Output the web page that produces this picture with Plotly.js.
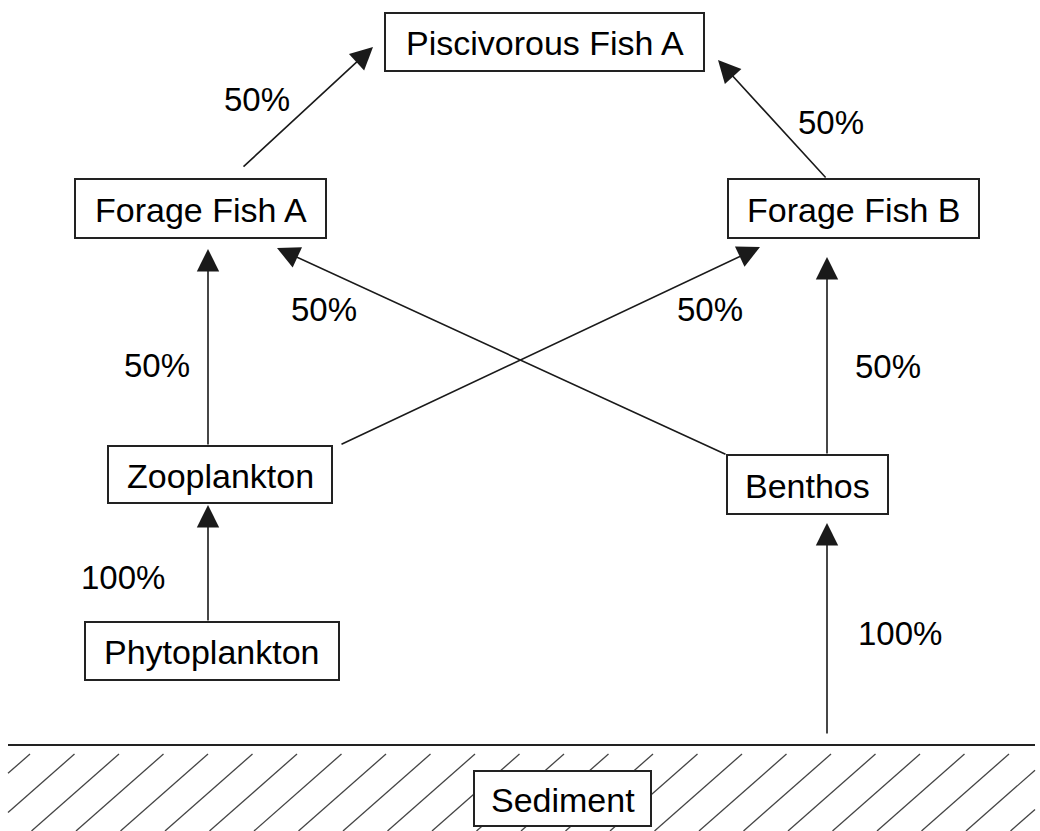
<!DOCTYPE html>
<html>
<head>
<meta charset="utf-8">
<script src="https://cdn.plot.ly/plotly-3.0.1.min.js"></script>
<style>html,body{margin:0;padding:0;background:#fff;}#chart{width:1040px;height:831px;}</style>
</head>
<body>
<div id="chart"></div>
<script>
// ---- content ----
const nodeNames = ['Piscivorous Fish A', 'Forage Fish A', 'Forage Fish B', 'Zooplankton', 'Benthos', 'Phytoplankton', 'Sediment'];
const edgeFrom  = ['Forage Fish A', 'Forage Fish B', 'Zooplankton', 'Benthos', 'Zooplankton', 'Benthos', 'Phytoplankton', 'Sediment'];
const edgeTo    = ['Piscivorous Fish A', 'Piscivorous Fish A', 'Forage Fish A', 'Forage Fish A', 'Forage Fish B', 'Forage Fish B', 'Zooplankton', 'Benthos'];
const edgeShare = ['50%', '50%', '50%', '50%', '50%', '50%', '100%', '100%'];

// ---- diagram geometry (pixel coordinates of the drawing) ----
const boxLeft   = [385, 75, 728, 108, 727, 85, 474];
const boxRight  = [704, 326, 979, 332, 888, 339, 651];
const boxTop    = [13, 179, 179, 446, 455, 622, 771];
const boxBottom = [71, 238, 238, 503, 514, 680, 826];
const edgeStart = [[242,168],[827,179],[208,446],[727,455],[340,445],[827,455],[208,622],[827,735]];
const edgeEnd   = [[373,47],[718,60],[208,249],[277,248],[760,247],[827,257],[208,505],[827,523]];
const labelPos  = [[257,99],[831,122],[157,365],[324,309],[710,309],[888,366],[123,577],[900,633]];
const groundY = 745, hatchTop = 754, hatchBottom = 831, hatchLeft = 8, hatchRight = 1035;

const FONT = 'Arial, "Liberation Sans", sans-serif';
const shapes = [];
const annotations = [];

// sediment hatching
const pitch = 44.5, run = 87.5;
for (let k = -3; k < 28; k++) {
  const xt = 30 + pitch * k;
  let t0 = 0, t1 = 1;
  if (xt - run < hatchLeft) t1 = Math.min(t1, (xt - hatchLeft) / run);
  if (xt > hatchRight) t0 = Math.max(t0, (xt - hatchRight) / run);
  if (t1 <= t0) continue;
  shapes.push({type:'line', xref:'x', yref:'y',
    x0: xt - run*t0, y0: hatchTop + (hatchBottom-hatchTop)*t0,
    x1: xt - run*t1, y1: hatchTop + (hatchBottom-hatchTop)*t1,
    line:{color:'#444', width:1.3}});
}
shapes.push({type:'line', xref:'x', yref:'y', x0:hatchLeft, x1:hatchRight, y0:groundY, y1:groundY,
  line:{color:'#222', width:2}});

// boxes
nodeNames.forEach((name, i) => {
  shapes.push({type:'rect', xref:'x', yref:'y', x0:boxLeft[i], x1:boxRight[i], y0:boxTop[i], y1:boxBottom[i],
    line:{color:'#222', width:2}, fillcolor:'#fff'});
  annotations.push({x:(boxLeft[i]+boxRight[i])/2, y:(boxTop[i]+boxBottom[i])/2 + 1, xref:'x', yref:'y',
    text:name, showarrow:false, font:{family:FONT, size:34, color:'#000'}, xanchor:'center', yanchor:'middle'});
});

// arrows and shares
edgeFrom.forEach((f, i) => {
  annotations.push({x:edgeEnd[i][0], y:edgeEnd[i][1], ax:edgeStart[i][0], ay:edgeStart[i][1],
    xref:'x', yref:'y', axref:'x', ayref:'y', text:'', showarrow:true,
    arrowhead:2, arrowsize:2.8, arrowwidth:1.6, arrowcolor:'#1a1a1a', standoff:0, startstandoff:0});
  annotations.push({x:labelPos[i][0], y:labelPos[i][1], xref:'x', yref:'y', text:edgeShare[i], showarrow:false,
    font:{family:FONT, size:33, color:'#000'}, xanchor:'center', yanchor:'middle'});
});

const layout = {
  width:1040, height:831, margin:{l:0, r:0, t:0, b:0},
  paper_bgcolor:'#fff', plot_bgcolor:'#fff', showlegend:false,
  xaxis:{range:[0,1040], visible:false, fixedrange:true},
  yaxis:{range:[831,0], visible:false, fixedrange:true},
  shapes:shapes, annotations:annotations
};
Plotly.newPlot('chart', [{x:[], y:[], type:'scatter', mode:'markers', hoverinfo:'skip'}], layout,
  {staticPlot:true, displayModeBar:false});
</script>
</body>
</html>
